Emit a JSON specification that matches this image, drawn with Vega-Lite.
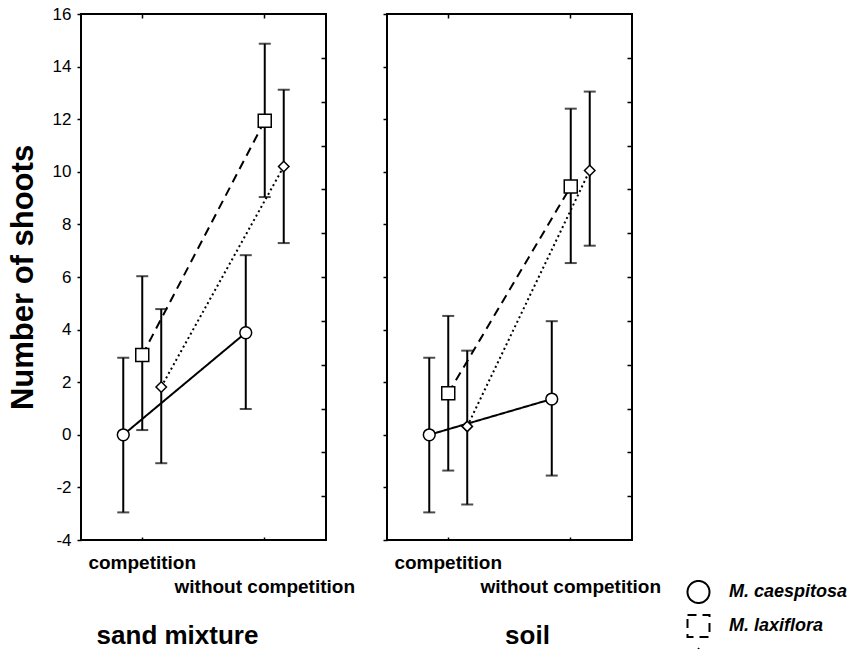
{
  "$schema": "https://vega.github.io/schema/vega-lite/v6.json",
  "padding": {"left": 6, "top": 4, "right": 5, "bottom": 0},
  "background": "white",
  "bounds": "flush",
  "spacing": 61,
  "data": {
    "values": [
      {"substrate": "sand mixture", "treatment": "competition", "species": "M. caespitosa", "mean": 0, "lower": -2.95, "upper": 2.93},
      {"substrate": "sand mixture", "treatment": "without competition", "species": "M. caespitosa", "mean": 3.88, "lower": 0.98, "upper": 6.83},
      {"substrate": "sand mixture", "treatment": "competition", "species": "M. laxiflora", "mean": 3.03, "lower": 0.18, "upper": 6.03},
      {"substrate": "sand mixture", "treatment": "without competition", "species": "M. laxiflora", "mean": 11.94, "lower": 9.04, "upper": 14.87},
      {"substrate": "sand mixture", "treatment": "competition", "species": "M. nemorosa", "mean": 1.82, "lower": -1.08, "upper": 4.78},
      {"substrate": "sand mixture", "treatment": "without competition", "species": "M. nemorosa", "mean": 10.2, "lower": 7.29, "upper": 13.12},
      {"substrate": "soil", "treatment": "competition", "species": "M. caespitosa", "mean": 0, "lower": -2.95, "upper": 2.93},
      {"substrate": "soil", "treatment": "without competition", "species": "M. caespitosa", "mean": 1.36, "lower": -1.55, "upper": 4.32},
      {"substrate": "soil", "treatment": "competition", "species": "M. laxiflora", "mean": 1.58, "lower": -1.36, "upper": 4.52},
      {"substrate": "soil", "treatment": "without competition", "species": "M. laxiflora", "mean": 9.44, "lower": 6.53, "upper": 12.4},
      {"substrate": "soil", "treatment": "competition", "species": "M. nemorosa", "mean": 0.32, "lower": -2.65, "upper": 3.2},
      {"substrate": "soil", "treatment": "without competition", "species": "M. nemorosa", "mean": 10.05, "lower": 7.19, "upper": 13.05}
    ]
  },
  "resolve": {"scale": {"shape": "independent", "size": "independent", "strokeDash": "independent"}},
  "hconcat": [
    {
      "width": 245,
      "height": 526,
      "transform": [{"filter": "datum.substrate === 'sand mixture'"}],
      "resolve": {"axis": {"x": "independent", "y": "independent"}},
      "layer": [
        {
          "mark": {"type": "line", "color": "black", "strokeWidth": 2},
          "encoding": {
            "x": {"field": "treatment", "type": "nominal", "sort": ["competition", "without competition"],
                  "scale": {"type": "band", "paddingInner": 0.535, "paddingOuter": 0.2675},
                  "axis": {"orient": "bottom", "domain": false, "tickSize": -3, "tickWidth": 1.5, "tickColor": "black", "labelAngle": 0, "labelFontSize": 19, "labelFontWeight": "bold", "labelColor": "black", "labelBaseline": "top", "labelLineHeight": 24, "labelPadding": 16, "labelOverlap": false, "labelLimit": 0, "labelExpr": "datum.value === 'without competition' ? ['', datum.label] : datum.label", "title": "sand mixture", "titleFontSize": 26, "titleFontWeight": "bold", "titleColor": "black", "titleX": 96, "titleY": 103, "titleBaseline": "alphabetic"}},
            "xOffset": {"field": "species", "type": "nominal", "sort": ["M. caespitosa", "M. laxiflora", "M. nemorosa"], "scale": {"type": "band", "paddingInner": 0, "paddingOuter": 0}},
            "y": {"field": "mean", "type": "quantitative", "scale": {"domain": [-4, 16], "nice": false, "zero": false},
                  "axis": {"orient": "left", "domain": false, "values": [-4, -2, 0, 2, 4, 6, 8, 10, 12, 14, 16], "tickSize": 4, "tickWidth": 1.5, "tickColor": "black", "labelFontSize": 17, "labelColor": "black", "labelPadding": 6, "labelExpr": "'' + datum.value", "grid": false, "title": "Number of shoots", "titleFontSize": 31, "titleFontWeight": "bold", "titleColor": "black", "titlePadding": 13}},
            "strokeDash": {"field": "species", "type": "nominal", "scale": {"domain": ["M. caespitosa", "M. laxiflora", "M. nemorosa"], "range": [[1, 0], [9, 6], [2, 3]]}, "legend": null}
          }
        },
        {
          "mark": {"type": "rule", "color": "black", "strokeWidth": 2},
          "encoding": {
            "x": {"field": "treatment", "type": "nominal", "sort": ["competition", "without competition"],
                  "scale": {"type": "band", "paddingInner": 0.535, "paddingOuter": 0.2675},
                  "axis": {"orient": "top", "domain": false, "labels": false, "tickSize": -4, "tickWidth": 1.5, "tickColor": "black", "title": null}},
            "xOffset": {"field": "species", "type": "nominal", "sort": ["M. caespitosa", "M. laxiflora", "M. nemorosa"]},
            "y": {"field": "lower", "type": "quantitative",
                  "axis": {"orient": "right", "domain": false, "labels": false, "values": [14.333, 12.667, 11, 9.333, 7.667, 6, 4.333, 2.667, 1, -0.667, -2.333], "tickSize": -5, "tickWidth": 1.5, "tickColor": "black", "grid": false, "title": null}},
            "y2": {"field": "upper"}
          }
        },
        {
          "mark": {"type": "tick", "color": "black", "orient": "horizontal", "size": 12, "thickness": 2},
          "encoding": {
            "x": {"field": "treatment", "type": "nominal", "sort": ["competition", "without competition"], "axis": null},
            "xOffset": {"field": "species", "type": "nominal", "sort": ["M. caespitosa", "M. laxiflora", "M. nemorosa"]},
            "y": {"field": "upper", "type": "quantitative", "axis": null}
          }
        },
        {
          "mark": {"type": "tick", "color": "black", "orient": "horizontal", "size": 12, "thickness": 2},
          "encoding": {
            "x": {"field": "treatment", "type": "nominal", "sort": ["competition", "without competition"], "axis": null},
            "xOffset": {"field": "species", "type": "nominal", "sort": ["M. caespitosa", "M. laxiflora", "M. nemorosa"]},
            "y": {"field": "lower", "type": "quantitative", "axis": null}
          }
        },
        {
          "mark": {"type": "point", "filled": false, "fill": "white", "fillOpacity": 1, "stroke": "black", "strokeWidth": 1.5, "opacity": 1},
          "encoding": {
            "x": {"field": "treatment", "type": "nominal", "sort": ["competition", "without competition"], "axis": null},
            "xOffset": {"field": "species", "type": "nominal", "sort": ["M. caespitosa", "M. laxiflora", "M. nemorosa"]},
            "y": {"field": "mean", "type": "quantitative", "axis": null},
            "shape": {"field": "species", "type": "nominal", "scale": {"domain": ["M. caespitosa", "M. laxiflora", "M. nemorosa"], "range": ["circle", "square", "diamond"]}, "legend": null},
            "size": {"field": "species", "type": "nominal", "scale": {"domain": ["M. nemorosa", "M. caespitosa", "M. laxiflora"], "range": [110, 169, 169]}, "legend": null}
          }
        }
      ]
    },
    {
      "width": 245,
      "height": 526,
      "transform": [{"filter": "datum.substrate === 'soil'"}],
      "resolve": {"axis": {"x": "independent", "y": "independent"}},
      "layer": [
        {
          "mark": {"type": "line", "color": "black", "strokeWidth": 2},
          "encoding": {
            "x": {"field": "treatment", "type": "nominal", "sort": ["competition", "without competition"],
                  "scale": {"type": "band", "paddingInner": 0.535, "paddingOuter": 0.2675},
                  "axis": {"orient": "bottom", "domain": false, "tickSize": -3, "tickWidth": 1.5, "tickColor": "black", "labelAngle": 0, "labelFontSize": 19, "labelFontWeight": "bold", "labelColor": "black", "labelBaseline": "top", "labelLineHeight": 24, "labelPadding": 16, "labelOverlap": false, "labelLimit": 0, "labelExpr": "datum.value === 'without competition' ? ['', datum.label] : datum.label", "title": "soil", "titleFontSize": 26, "titleFontWeight": "bold", "titleColor": "black", "titleX": 140, "titleY": 103, "titleBaseline": "alphabetic"}},
            "xOffset": {"field": "species", "type": "nominal", "sort": ["M. caespitosa", "M. laxiflora", "M. nemorosa"], "scale": {"type": "band", "paddingInner": 0, "paddingOuter": 0}},
            "y": {"field": "mean", "type": "quantitative", "scale": {"domain": [-4, 16], "nice": false, "zero": false},
                  "axis": {"orient": "left", "domain": false, "values": [-4, -2, 0, 2, 4, 6, 8, 10, 12, 14, 16], "tickSize": 4, "tickWidth": 1.5, "tickColor": "black", "labels": false, "grid": false, "title": null}},
            "strokeDash": {"field": "species", "type": "nominal", "scale": {"domain": ["M. caespitosa", "M. laxiflora", "M. nemorosa"], "range": [[1, 0], [9, 6], [2, 3]]},
                           "legend": {"orient": "none", "legendX": 299.5, "legendY": 566, "padding": 0, "title": null, "symbolType": "stroke", "symbolSize": 484, "symbolStrokeColor": "black", "symbolStrokeWidth": 2, "labelFontSize": 18, "labelFontWeight": "bold", "labelFontStyle": "italic", "labelColor": "black", "labelOffset": 18.5, "rowPadding": 4}}
          }
        },
        {
          "mark": {"type": "rule", "color": "black", "strokeWidth": 2},
          "encoding": {
            "x": {"field": "treatment", "type": "nominal", "sort": ["competition", "without competition"],
                  "scale": {"type": "band", "paddingInner": 0.535, "paddingOuter": 0.2675},
                  "axis": {"orient": "top", "domain": false, "labels": false, "tickSize": -4, "tickWidth": 1.5, "tickColor": "black", "title": null}},
            "xOffset": {"field": "species", "type": "nominal", "sort": ["M. caespitosa", "M. laxiflora", "M. nemorosa"]},
            "y": {"field": "lower", "type": "quantitative",
                  "axis": {"orient": "right", "domain": false, "labels": false, "values": [14.333, 12.667, 11, 9.333, 7.667, 6, 4.333, 2.667, 1, -0.667, -2.333], "tickSize": -5, "tickWidth": 1.5, "tickColor": "black", "grid": false, "title": null}},
            "y2": {"field": "upper"}
          }
        },
        {
          "mark": {"type": "tick", "color": "black", "orient": "horizontal", "size": 12, "thickness": 2},
          "encoding": {
            "x": {"field": "treatment", "type": "nominal", "sort": ["competition", "without competition"], "axis": null},
            "xOffset": {"field": "species", "type": "nominal", "sort": ["M. caespitosa", "M. laxiflora", "M. nemorosa"]},
            "y": {"field": "upper", "type": "quantitative", "axis": null}
          }
        },
        {
          "mark": {"type": "tick", "color": "black", "orient": "horizontal", "size": 12, "thickness": 2},
          "encoding": {
            "x": {"field": "treatment", "type": "nominal", "sort": ["competition", "without competition"], "axis": null},
            "xOffset": {"field": "species", "type": "nominal", "sort": ["M. caespitosa", "M. laxiflora", "M. nemorosa"]},
            "y": {"field": "lower", "type": "quantitative", "axis": null}
          }
        },
        {
          "mark": {"type": "point", "filled": false, "fill": "white", "fillOpacity": 1, "stroke": "black", "strokeWidth": 1.5, "opacity": 1},
          "encoding": {
            "x": {"field": "treatment", "type": "nominal", "sort": ["competition", "without competition"], "axis": null},
            "xOffset": {"field": "species", "type": "nominal", "sort": ["M. caespitosa", "M. laxiflora", "M. nemorosa"]},
            "y": {"field": "mean", "type": "quantitative", "axis": null},
            "shape": {"field": "species", "type": "nominal", "scale": {"domain": ["M. caespitosa", "M. laxiflora", "M. nemorosa"], "range": ["circle", "square", "diamond"]}, "legend": null},
            "size": {"field": "species", "type": "nominal", "scale": {"domain": ["M. nemorosa", "M. caespitosa", "M. laxiflora"], "range": [110, 169, 169]}, "legend": null}
          }
        }
      ]
    }
  ],
  "config": {
    "font": "Liberation Sans",
    "view": {"stroke": "black", "strokeWidth": 2},
    "axis": {"labelFont": "Liberation Sans", "titleFont": "Liberation Sans", "grid": false},
    "legend": {"labelFont": "Liberation Sans"}
  }
}
